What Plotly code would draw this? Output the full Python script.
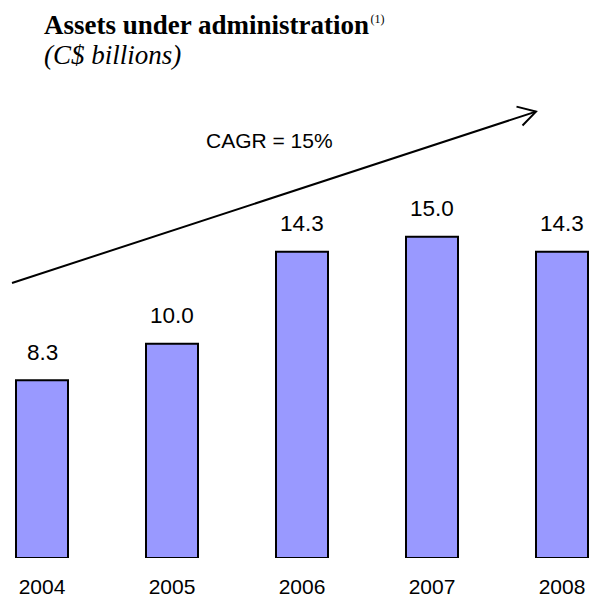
import plotly.graph_objects as go

years = ["2004", "2005", "2006", "2007", "2008"]
values = [8.3, 10.0, 14.3, 15.0, 14.3]
labels = ["8.3", "10.0", "14.3", "15.0", "14.3"]

W, H = 589, 598
BASE = 560.0
PX_PER_UNIT = 21.5
X0, DX = 42.0, 130.0

def px2x(px):
    return (px - X0) / DX

def py2y(py):
    return (BASE - py) / PX_PER_UNIT

xs = list(range(len(years)))

fig = go.Figure()
fig.add_trace(go.Bar(
    x=xs, y=values, width=0.4,
    marker=dict(color="#9999FF", line=dict(color="black", width=2)),
    hoverinfo="skip",
))

for x, v, t in zip(xs, values, labels):
    fig.add_annotation(x=x, y=v, text=t, showarrow=False, yanchor="middle",
                       yshift=28, font=dict(family="Liberation Sans", size=22.5, color="black"))

# CAGR arrow
x1, y1 = px2x(12), py2y(284)
x2, y2 = px2x(536), py2y(112)
ha1 = (px2x(516.5), py2y(107))
ha2 = (px2x(522.5), py2y(126))
fig.add_shape(type="line", x0=x1, y0=y1, x1=x2, y1=y2, xref="x", yref="y",
              line=dict(color="black", width=2))
fig.add_shape(type="path", xref="x", yref="y",
              path=f"M {ha1[0]},{ha1[1]} L {x2},{y2} L {ha2[0]},{ha2[1]}",
              line=dict(color="black", width=2))
fig.add_annotation(x=px2x(269), y=py2y(141), text="CAGR = 15%", showarrow=False,
                   font=dict(family="Liberation Sans", size=21, color="black"))

# Title and subtitle
fig.add_annotation(xref="paper", yref="paper", x=42 / W, y=(BASE - 25) / BASE,
                   xanchor="left", yanchor="middle", showarrow=False,
                   text="<b>Assets under administration</b><span style='font-size:6px'> </span><sup><span style='font-size:12px'>(1)</span></sup>",
                   font=dict(family="Liberation Serif", size=27, color="black"))
fig.add_annotation(xref="paper", yref="paper", x=42 / W, y=(BASE - 55) / BASE,
                   xanchor="left", yanchor="middle", showarrow=False,
                   text="<i>(C$ billions)</i>",
                   font=dict(family="Liberation Serif", size=27, color="black"))

fig.update_layout(
    width=W, height=H,
    margin=dict(l=0, r=0, t=0, b=H - BASE),
    paper_bgcolor="white", plot_bgcolor="white",
    showlegend=False,
    xaxis=dict(range=[px2x(0), px2x(W)], tickvals=xs, ticktext=years,
               showgrid=False, zeroline=False, showline=False,
               ticks="outside", ticklen=10, tickcolor="rgba(0,0,0,0)",
               tickfont=dict(family="Liberation Sans", size=21, color="black")),
    yaxis=dict(range=[0, BASE / PX_PER_UNIT], visible=False),
)

fig.write_html("out.html", config={"displayModeBar": False},
               post_script="document.body.style.margin='0';document.body.style.overflow='hidden';")
